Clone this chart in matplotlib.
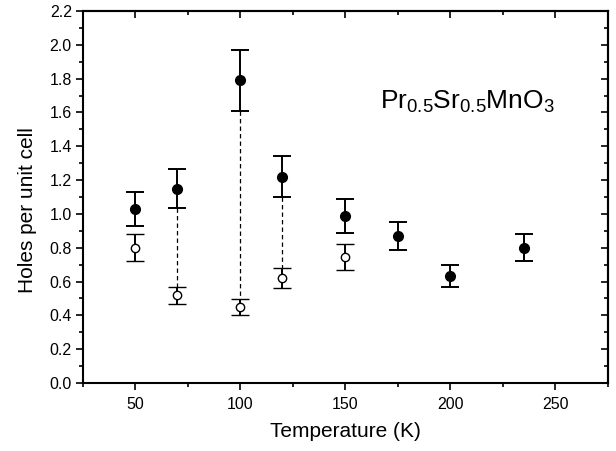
import matplotlib
matplotlib.use("Agg")
import matplotlib.pyplot as plt
from matplotlib.ticker import MultipleLocator, FormatStrFormatter

plt.rcParams['font.family'] = ['Liberation Sans', 'DejaVu Sans']
plt.rcParams['mathtext.fontset'] = 'custom'
plt.rcParams['mathtext.rm'] = 'Liberation Sans'
plt.rcParams['mathtext.it'] = 'Liberation Sans'
plt.rcParams['mathtext.bf'] = 'Liberation Sans:bold'

# Data
temp_filled = [50, 70, 100, 120, 150, 175, 200, 235]
holes_filled = [1.03, 1.15, 1.79, 1.22, 0.99, 0.87, 0.63, 0.80]
err_filled = [0.10, 0.115, 0.18, 0.12, 0.10, 0.085, 0.065, 0.08]

temp_open = [50, 70, 100, 120, 150]
holes_open = [0.80, 0.52, 0.45, 0.62, 0.745]
err_open = [0.08, 0.05, 0.045, 0.06, 0.075]

dashed_temps = [70, 100, 120]

fig = plt.figure(figsize=(6.16, 4.51), dpi=100)
ax = fig.add_axes([0.1347, 0.1508, 0.8523, 0.8248])

for t in dashed_temps:
    i = temp_filled.index(t)
    j = temp_open.index(t)
    ax.plot([t, t], [holes_filled[i] - err_filled[i], holes_open[j] + err_open[j]],
            ls=(0, (3.5, 2.5)), color='black', lw=0.9, zorder=1)

ax.errorbar(temp_filled, holes_filled, yerr=err_filled, fmt='o', color='black',
            mfc='black', mec='black', ms=7, capsize=6.2, elinewidth=1.4, capthick=1.4, zorder=3)
ax.errorbar(temp_open, holes_open, yerr=err_open, fmt='o', color='black',
            mfc='white', mec='black', ms=6, mew=1.0, capsize=6.2, elinewidth=1.4, capthick=1.4, zorder=3)

ax.set_xlim(25, 275)
ax.set_ylim(0.0, 2.2)
ax.xaxis.set_major_locator(MultipleLocator(50))
ax.xaxis.set_minor_locator(MultipleLocator(25))
ax.yaxis.set_major_locator(MultipleLocator(0.2))
ax.yaxis.set_minor_locator(MultipleLocator(0.1))
ax.yaxis.set_major_formatter(FormatStrFormatter('%.1f'))

ax.tick_params(axis='both', which='both', direction='out', labelsize=11.5, width=1.2)
ax.tick_params(which='major', length=5)
ax.tick_params(which='minor', length=3)
ax.tick_params(axis='x', which='major', pad=5)
ax.tick_params(axis='y', which='major', pad=3)

ax2 = ax.secondary_yaxis('right')
ax2.yaxis.set_major_locator(MultipleLocator(0.2))
ax2.yaxis.set_minor_locator(MultipleLocator(0.1))
ax2.tick_params(which='both', direction='in', labelright=False, width=1.2)
ax2.tick_params(which='major', length=5)
ax2.tick_params(which='minor', length=3)
ax3 = ax.secondary_xaxis('top')
ax3.xaxis.set_major_locator(MultipleLocator(50))
ax3.xaxis.set_minor_locator(MultipleLocator(25))
ax3.tick_params(which='both', direction='in', labeltop=False, width=1.2)
ax3.tick_params(which='major', length=5)
ax3.tick_params(which='minor', length=3)

for s in ax.spines.values():
    s.set_linewidth(1.5)
ax2.spines['right'].set_linewidth(1.5)
ax3.spines['top'].set_linewidth(1.5)

ax.set_xlabel('Temperature (K)', fontsize=15, labelpad=7)
ax.set_ylabel('Holes per unit cell', fontsize=15)
ax.yaxis.set_label_coords(-0.088, 0.465)

ax.text(0.565, 0.755, r'Pr$_{0.5}$Sr$_{0.5}$MnO$_3$', transform=ax.transAxes,
        fontsize=19, ha='left', va='center')

fig.savefig('out.png', dpi=100)
